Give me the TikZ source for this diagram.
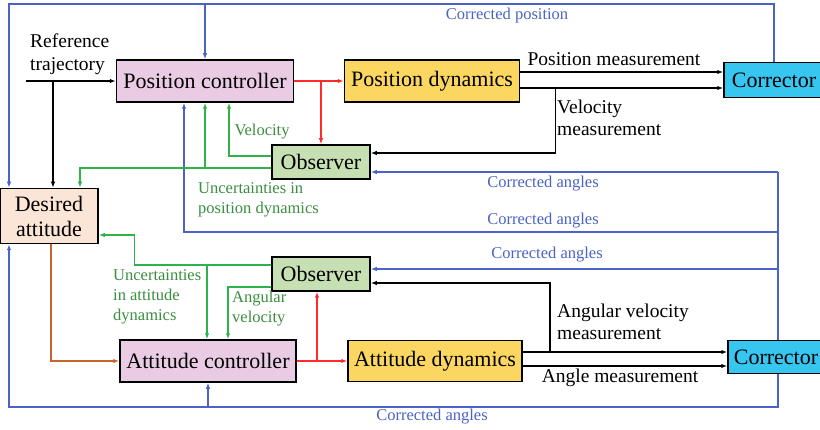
\documentclass[tikz,border=0pt]{standalone}
\usepackage{fontspec}
\setmainfont{Liberation Serif}
\definecolor{cpink}{HTML}{E9CBE3}
\definecolor{cyell}{HTML}{FBD660}
\definecolor{cgrn}{HTML}{C6E0B4}
\definecolor{cpeach}{HTML}{FBE5D6}
\definecolor{ccyan}{HTML}{36C6F0}
\definecolor{lblue}{HTML}{4A63C4}
\definecolor{lgreen}{HTML}{2DB34A}
\definecolor{tgreen}{HTML}{3A8E3E}
\definecolor{lred}{HTML}{FF2A2A}
\definecolor{lorange}{HTML}{C8652A}
\usetikzlibrary{positioning,arrows.meta}

\begin{document}
\begin{tikzpicture}[x=1pt,y=1pt,
      blk/.style={draw=black,line width=1.5pt,inner sep=0pt,align=center,font=\fontsize{22}{25}\selectfont},
      lbl/.style={inner sep=0pt,align=left,font=\fontsize{19.5}{22.5}\selectfont},
      clbl/.style={inner sep=0pt,align=left,font=\fontsize{16.5}{20}\selectfont},
      ar/.style={line width=1.5pt,-{Latex[length=6pt,width=4.5pt]}},
      bus/.style={line width=1.5pt,draw=lblue},
      bl/.style={ar,draw=lblue},
      gr/.style={ar,draw=lgreen},
      rd/.style={ar,draw=lred},
      og/.style={ar,draw=lorange}]
    \useasboundingbox (0,0) rectangle (820,429);
    % blocks
    \node[blk,fill=cpink,minimum width=177pt,minimum height=42pt] (pc) at (205,348) {Position controller};
    \node[blk,fill=cyell,minimum width=175pt,minimum height=42pt] (pd) at (432,348) {Position dynamics};
    \node[blk,fill=cgrn,minimum width=98pt,minimum height=34pt] (obs1) at (321,267) {Observer};
    \node[blk,fill=ccyan,minimum width=100pt,minimum height=35pt] (cor1) at (774,349) {Corrector};
    \node[blk,fill=cpeach,minimum width=98pt,minimum height=55pt] (da) at (49,213) {Desired\\attitude};
    \node[blk,fill=cgrn,minimum width=98pt,minimum height=34pt] (obs2) at (321,155) {Observer};
    \node[blk,fill=cpink,minimum width=176pt,minimum height=42pt] (ac) at (208,68) {Attitude controller};
    \node[blk,fill=cyell,minimum width=174pt,minimum height=41pt] (ad) at (435,68) {Attitude dynamics};
    \node[blk,fill=ccyan,minimum width=96pt,minimum height=33pt] (cor2) at (776,72) {Corrector};
    % bus corners
    \coordinate (tl) at (9,425);
    \coordinate (bl) at (9,22);
    \coordinate (rb) at (778,22);
    \coordinate (rt) at (778,257);
    \coordinate (c2) at (778,197);
    \coordinate (c3) at (778,160);
    \coordinate (ref) at (26,348);
    % corrected position and angles (blue)
    \draw[bl] (cor1.north) |- (tl) -- (tl |- da.north);
    \draw[bl] (pc.north |- tl) -- (pc.north);
    \draw[bus] (rt) -- (rt |- cor2.north);
    \draw[bl] (rt |- cor2.south) -- (rb) -- (bl) -- (bl |- da.south);
    \draw[bl] (ac.south |- bl) -- (ac.south);
    \draw[bl] (rt) -- (rt -| obs1.east);
    \draw[bl] (c2) -| ([xshift=-21pt]pc.south);
    \draw[bl] (c3) -- (c3 -| obs2.east);
    % reference trajectory
    \draw[ar] (ref) -- (pc.west);
    \draw[ar] ([xshift=4pt]da.north |- ref) -- ([xshift=4pt]da.north);
    % position loop
    \draw[rd] (pc.east) -- (pd.west);
    \draw[rd] (obs1.north |- pc.east) -- (obs1.north);
    \draw[ar] ([yshift=9pt]pd.east) -- ([yshift=9pt]pd.east -| cor1.west);
    \draw[ar] ([yshift=-7pt]pd.east) -- ([yshift=-7pt]pd.east -| cor1.west);
    \draw[ar] ([xshift=35pt,yshift=-7pt]pd.east) |- ([yshift=9pt]obs1.east);
    \coordinate (g1) at ([yshift=-6pt]obs1.west);
    \coordinate (g2) at ([yshift=6pt]obs1.west);
    \draw[gr] (g1) -| ([xshift=31pt]da.north);
    \draw[gr] (pc.south |- g1) -- (pc.south);
    \draw[gr] (g2) -| ([xshift=24pt]pc.south);
    % attitude loop
    \coordinate (g3) at ([yshift=9pt]obs2.west);
    \coordinate (g4) at ([yshift=-13pt]obs2.west);
    \draw[gr] (g3) -- ++(-137,0) |- ([yshift=-19pt]da.east);
    \draw[gr] ([xshift=-1pt]ac.north |- g3) -- ([xshift=-1pt]ac.north);
    \draw[gr] (g4) -| ([xshift=20pt]ac.north);
    \draw[og] ([xshift=2pt]da.south) |- (ac.west);
    \draw[rd] (ac.east) -- (ad.west);
    \draw[rd] ([xshift=-4pt]obs2.south |- ac.east) -- ([xshift=-4pt]obs2.south);
    \draw[ar] ([yshift=9pt]ad.east) -- ([yshift=9pt]ad.east -| cor2.west);
    \draw[ar] ([yshift=-5pt]ad.east) -- ([yshift=-5pt]ad.east -| cor2.west);
    \draw[ar] ([xshift=27pt,yshift=9pt]ad.east) |- ([yshift=-9pt]obs2.east);
    % labels
    \node[lbl,anchor=west] (lref) at (30,375) {Reference\\trajectory};
    \node[lbl] (lpm) at (614,370) {Position measurement};
    \node[lbl,anchor=west] (lvm) at (557,311) {Velocity\\measurement};
    \node[lbl,anchor=west] (lavm) at (557,107) {Angular velocity\\measurement};
    \node[lbl] (lam) at (620,51) {Angle measurement};
    \node[clbl,text=lblue] (lcp) at (507,413) {Corrected position};
    \node[clbl,text=lblue] (lca1) at (543,245) {Corrected angles};
    \node[clbl,text=lblue] (lca2) at (543,208) {Corrected angles};
    \node[clbl,text=lblue] (lca3) at (547,174) {Corrected angles};
    \node[clbl,text=lblue] (lca4) at (432,12) {Corrected angles};
    \node[clbl,text=tgreen] (lv) at (262,297) {Velocity};
    \node[clbl,text=tgreen,anchor=west] (lup) at (198,229) {Uncertainties in\\position dynamics};
    \node[clbl,text=tgreen,anchor=west] (lua) at (113,132) {Uncertainties\\in attitude\\dynamics};
    \node[clbl,text=tgreen,anchor=west] (lav) at (232,120) {Angular\\velocity};
  \end{tikzpicture}
\end{document}
